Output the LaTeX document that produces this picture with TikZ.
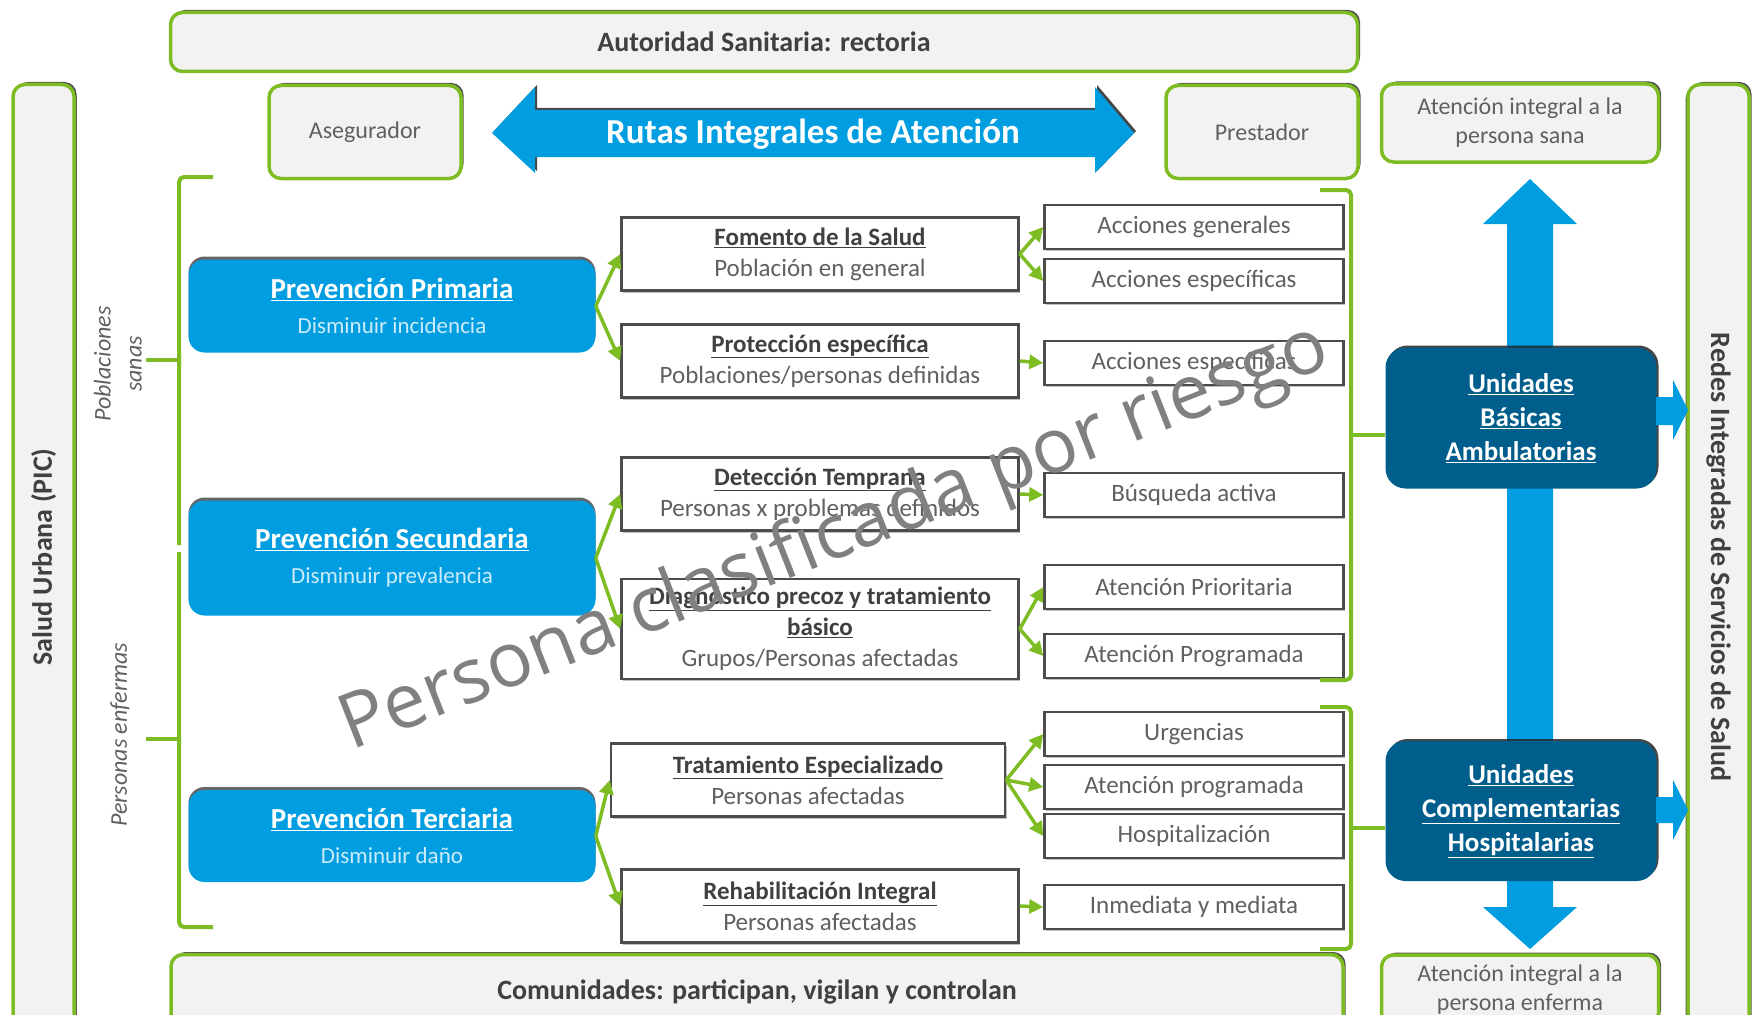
\documentclass[tikz,border=0pt]{standalone}
\usepackage{fontspec}
\setmainfont{Carlito}
\newfontfamily\wmfont{Open Sans}
\usetikzlibrary{arrows.meta,shadows}

\definecolor{ggreen}{RGB}{126,188,36}
\definecolor{gfill}{RGB}{242,242,242}
\definecolor{pblue}{RGB}{0,158,224}
\definecolor{ublue}{RGB}{0,94,140}
\definecolor{subblue}{RGB}{205,236,250}
\definecolor{dgray}{RGB}{64,64,64}
\definecolor{lgray}{RGB}{96,96,96}

\newcommand{\fsize}[2]{\fontsize{#1}{#2}\selectfont}

\tikzset{
  greybox/.style={draw=ggreen, fill=gfill, line width=3.5, rounded corners=12, inner sep=0, align=center, text=dgray,
    drop shadow={shadow xshift=2.5pt, shadow yshift=2.5pt, opacity=.85, fill=black!80}},
  prevbox/.style={fill=pblue, rounded corners=16, minimum width=407, inner sep=0, align=center, text=white,
    font=\fsize{29}{35},
    drop shadow={shadow xshift=0pt, shadow yshift=3pt, opacity=.8, fill=black!75}},
  stagebox/.style={draw=black!70, line width=2.5, fill=white, minimum width=397, minimum height=73, inner sep=0,
    align=center, text=lgray, font=\fsize{25}{31},
    drop shadow={shadow xshift=1.5pt, shadow yshift=-2pt, opacity=.5, fill=black!50}},
  actbox/.style={draw=black!70, line width=2.5, fill=white, minimum width=299, minimum height=44, inner sep=0,
    text=lgray, font=\fsize{25}{30},
    drop shadow={shadow xshift=1.5pt, shadow yshift=-2pt, opacity=.5, fill=black!50}},
  unitbox/.style={fill=ublue, rounded corners=20, minimum width=271, minimum height=141, inner sep=0, align=center,
    text=white, font=\bfseries\fsize{27}{34},
    drop shadow={shadow xshift=2pt, shadow yshift=2pt, opacity=.85, fill=black!85}},
  garrow/.style={draw=ggreen, line width=3.5, -{Triangle[length=14pt,width=14pt]}},
  gbrace/.style={draw=ggreen, line width=4, rounded corners=5},
  sidelabel/.style={rotate=90, align=center, text=lgray, font=\itshape\fsize{24}{31}}
}

\begin{document}
\begin{tikzpicture}[x=1pt,y=-1pt]
\useasboundingbox (0,0) rectangle (1755,1014);
\clip (0,0) rectangle (1755,1014);

% vertical blue arrow behind the units
\fill[pblue] (1530,179) -- (1577,224) -- (1553,224) -- (1553,907) -- (1577,907) -- (1530,949)
  -- (1483,907) -- (1507,907) -- (1507,224) -- (1483,224) -- cycle;

% outer frame
\node[greybox, minimum width=1187, minimum height=59, font=\bfseries\fsize{28}{34}] (rector) at (764,42) {Autoridad Sanitaria: rectoria};
\node[greybox, rotate=90, minimum width=945, minimum height=61, font=\bfseries\fsize{28}{34},
  drop shadow={shadow xshift=2.5pt, shadow yshift=0pt, opacity=.85, fill=black!80}] (salud) at (43.5,557) {Salud Urbana (PIC)};
\node[greybox, rotate=-90, minimum width=945, minimum height=61, font=\bfseries\fsize{28}{34},
  drop shadow={shadow xshift=-2.5pt, shadow yshift=-2.5pt, opacity=.85, fill=black!80}] (redes) at (1718.5,557) {Redes Integradas de Servicios de Salud};
\node[greybox, minimum width=192, minimum height=93, font=\fsize{24}{29}, text=lgray] (aseg) at (365,132) {Asegurador};
\node[greybox, minimum width=192, minimum height=93, font=\fsize{24}{29}, text=lgray] (prest) at (1262,132) {Prestador};
\node[greybox, minimum width=277, minimum height=78, font=\fsize{24}{29}, text=lgray] (sana) at (1520,123) {Atención integral a la\\persona sana};
\node[greybox, minimum width=277, minimum height=70, font=\fsize{24}{29}, text=lgray] (enferma) at (1520,990) {Atención integral a la\\persona enferma};
\node[greybox, minimum width=1172, minimum height=75, font=\bfseries\fsize{28}{34}] (comun) at (757,992) {Comunidades: participan, vigilan y controlan};

% rutas
\fill[pblue, drop shadow={shadow xshift=2pt, shadow yshift=2pt, opacity=.85, fill=black!85}]
  (492,133) -- (535,87) -- (535,110) -- (1095,110) -- (1095,87) -- (1134,133)
  -- (1095,173) -- (1095,157) -- (535,157) -- (535,173) -- cycle;
\node[text=white, font=\bfseries\fsize{35}{40}] (rutas) at (813,134) {Rutas Integrales de Atención};

% left braces
\coordinate (lb1) at (179,360);
\coordinate (lb2) at (179,739);
\draw[gbrace] (213,177) -- (179,177) -- (179,545);
\draw[gbrace] (179,552) -- (179,927) -- (213,927);
\draw[gbrace] (lb1) -- (146,360);
\draw[gbrace] (lb2) -- (146,739);
\node[sidelabel] (sanos) at (118,364) {Poblaciones\\sanas};
\node[sidelabel] (enfermos) at (120,735) {Personas enfermas};

% prevention levels
\node[prevbox, minimum height=93] (prim) at (392,306) {\textbf{\underline{Prevención Primaria}}\\{\color{subblue}\fsize{23}{35}Disminuir incidencia}};
\node[prevbox, minimum height=115] (secu) at (392,558) {\textbf{\underline{Prevención Secundaria}}\\{\color{subblue}\fsize{23}{35}Disminuir prevalencia}};
\node[prevbox, minimum height=92] (terc) at (392,836) {\textbf{\underline{Prevención Terciaria}}\\{\color{subblue}\fsize{23}{35}Disminuir daño}};

% stages
\node[stagebox] (fom) at (820,254) {\textcolor{dgray}{\underline{\textbf{Fomento de la Salud}}}\\Población en general};
\node[stagebox] (prot) at (820,361) {\textcolor{dgray}{\underline{\textbf{Protección específica}}}\\Poblaciones/personas definidas};
\node[stagebox] (dete) at (820,494) {\textcolor{dgray}{\underline{\textbf{Detección Temprana}}}\\Personas x problemas definidos};
\node[stagebox, minimum height=100] (diag) at (820,629) {\textcolor{dgray}{\underline{\textbf{Diagnóstico precoz y tratamiento}}}\\\textcolor{dgray}{\underline{\textbf{básico}}}\\Grupos/Personas afectadas};
\node[stagebox, minimum width=394] (trat) at (808,780) {\textcolor{dgray}{\underline{\textbf{Tratamiento Especializado}}}\\Personas afectadas};
\node[stagebox] (reha) at (820,906) {\textcolor{dgray}{\underline{\textbf{Rehabilitación Integral}}}\\Personas afectadas};

% actions
\node[actbox] (a1) at (1194,227) {Acciones generales};
\node[actbox] (a2) at (1194,281) {Acciones específicas};
\node[actbox] (a3) at (1194,363) {Acciones específicas};
\node[actbox] (a4) at (1194,495) {Búsqueda activa};
\node[actbox] (a5) at (1194,587) {Atención Prioritaria};
\node[actbox] (a6) at (1194,656) {Atención Programada};
\node[actbox] (a7) at (1194,734) {Urgencias};
\node[actbox] (a8) at (1194,787) {Atención programada};
\node[actbox] (a9) at (1194,836) {Hospitalización};
\node[actbox] (a10) at (1194,907) {Inmediata y mediata};

% green arrows
\draw[garrow] (prim.east) -- (fom.west);
\draw[garrow] (prim.east) -- (prot.west);
\draw[garrow] (secu.east) -- (dete.west);
\draw[garrow] (secu.east) -- (diag.west);
\draw[garrow] (terc.east) -- (trat.west);
\draw[garrow] (terc.east) -- (reha.west);
\draw[garrow] (fom.east) -- (a1.west);
\draw[garrow] (fom.east) -- (a2.west);
\draw[garrow] (prot.east) -- (a3.west);
\draw[garrow] (dete.east) -- (a4.west);
\draw[garrow] (diag.east) -- (a5.west);
\draw[garrow] (diag.east) -- (a6.west);
\draw[garrow] (trat.east) -- (a7.west);
\draw[garrow] (trat.east) -- (a8.west);
\draw[garrow] (trat.east) -- (a9.west);
\draw[garrow] (reha.east) -- (a10.west);

% units
\node[unitbox] (ubas) at (1521,418) {\underline{Unidades}\\\underline{Básicas}\\\underline{Ambulatorias}};
\node[unitbox, minimum height=140] (ucom) at (1521,811) {\underline{Unidades}\\\underline{Complementarias}\\\underline{Hospitalarias}};

% right braces
\coordinate (rb1) at (1351,435);
\coordinate (rb2) at (1351,828);
\draw[gbrace] (1320,190) -- (1351,190) -- (1351,680) -- (1320,680);
\draw[gbrace] (1320,707) -- (1351,707) -- (1351,949) -- (1320,949);
\draw[gbrace] (rb1) -- (rb1 -| ubas.west);
\draw[gbrace] (rb2) -- (rb2 -| ucom.west);

% small arrows to the networks
\fill[pblue] (1656,397) -- (1673,397) -- (1673,380) -- (1688,410) -- (1673,440) -- (1673,425) -- (1656,425) -- cycle;
\fill[pblue] (1656,797) -- (1673,797) -- (1673,780) -- (1688,810) -- (1673,840) -- (1673,823) -- (1656,823) -- cycle;

% watermark
\node[rotate=21.5, text=black!50, font=\wmfont\fsize{76}{80}] (marca) at (835,539) {Persona clasificada por riesgo};
\end{tikzpicture}
\end{document}
